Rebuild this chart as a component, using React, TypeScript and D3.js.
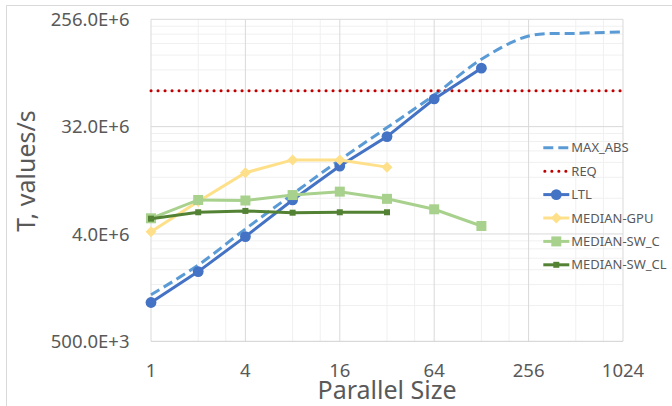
import * as d3 from "d3";

// parallel sizes (log2 axis)
const sizes = [1, 2, 4, 8, 16, 32, 64, 128, 256, 512, 1024];

// throughput per series, values/s
const maxAbs = [1.23e6, 2.19e6, 4.4e6, 8.65e6, 16.8e6, 31.4e6, 59e6, 118e6, 185e6, 195e6, 200e6];
const req = 64e6;
const ltl = [1.06e6, 1.93e6, 3.8e6, 7.73e6, 14.9e6, 26.4e6, 54.7e6, 99.3e6];
const medianGpu = [4.18e6, 7.5e6, 13.1e6, 16.8e6, 16.8e6, 14.6e6];
const medianSwC = [5.42e6, 7.73e6, 7.65e6, 8.5e6, 9.08e6, 7.9e6, 6.45e6, 4.67e6];
const medianSwCl = [5.38e6, 6.09e6, 6.25e6, 6.04e6, 6.09e6, 6.09e6];

const xTicks = [1, 4, 16, 64, 256, 1024];
const xMinor = [2, 3, 8, 12, 32, 48, 128, 192, 512, 768];
const yTicks = [500e3, 4e6, 32e6, 256e6];

const legendNames = ["MAX_ABS", "REQ", "LTL", "MEDIAN-GPU", "MEDIAN-SW_C", "MEDIAN-SW_CL"];

const W = 672;
const H = 406;
const FONT = "'Noto Sans', 'Open Sans', sans-serif";
const TXT = "#595959";
const GPU = "#ffe08a";

const x = d3.scaleLog().base(2).domain([1, 1024]).range([151, 623]);
const y = d3.scaleLog().base(8).domain([500e3, 256e6]).range([341.3, 19.3]);

// engineering style label, e.g. 32.0E+6
const fmt = (v: number) => {
  const e = Math.floor(Math.log10(v) / 3) * 3;
  return `${(v / Math.pow(10, e)).toFixed(1)}E+${e}`;
};

const toPts = (vals: number[]) => vals.map((v, i) => [x(sizes[i]), y(v)] as [number, number]);

const straight = d3.line();
const smooth = d3.line().curve(d3.curveCatmullRom.alpha(0.5));

const diamond = (cx: number, cy: number, r: number) =>
  `M${cx},${cy - r}L${cx + r},${cy}L${cx},${cy + r}L${cx - r},${cy}Z`;

export default function App() {
  // minor horizontal gridlines at k * decade (base 8)
  const yMinor: number[] = [];
  yTicks.slice(0, -1).forEach((t) => {
    for (let k = 2; k <= 7; k++) yMinor.push(t * k);
  });

  const [x0, x1] = x.range();
  const [yb, yt] = y.range();

  const legendY = [147.7, 171.2, 194.6, 218, 241.4, 264.8];
  const lx0 = 543.3;
  const lx1 = 569.3;
  const lmid = (lx0 + lx1) / 2;

  return (
    <svg
      width={W}
      height={H}
      style={{ position: "absolute", left: 0, top: 0, background: "#fff" }}
      fontFamily={FONT}
    >
      <rect x={0} y={0} width={W} height={H} fill="#fff" />
      {/* chart border (partially outside the view) */}
      <path d={`M6.5,${H}V5.5H${W}`} fill="none" stroke="#d9d9d9" />

      {/* gridlines */}
      {yMinor.map((v) => (
        <line key={"ym" + v} x1={x0} x2={x1} y1={y(v)} y2={y(v)} stroke="#f0f0f0" />
      ))}
      {xMinor.map((v) => (
        <line key={"xm" + v} x1={x(v)} x2={x(v)} y1={yb} y2={yt} stroke="#f0f0f0" />
      ))}
      {yTicks.slice(1).map((v) => (
        <line key={"yM" + v} x1={x0} x2={x1} y1={y(v)} y2={y(v)} stroke="#d9d9d9" />
      ))}
      {xTicks.map((v) => (
        <line key={"xM" + v} x1={x(v)} x2={x(v)} y1={yb} y2={yt} stroke="#d9d9d9" />
      ))}
      <line x1={x0} x2={x1} y1={yb} y2={yb} stroke="#d0d0d0" />

      {/* tick labels */}
      {yTicks.map((v) => (
        <text key={"yl" + v} x={129.5} y={y(v) + 6.6} textAnchor="end" fontSize={18.5} fill={TXT}>
          {fmt(v)}
        </text>
      ))}
      {xTicks.map((v) => (
        <text key={"xl" + v} x={x(v)} y={376.5} textAnchor="middle" fontSize={18.5} fill={TXT}>
          {v}
        </text>
      ))}

      {/* axis titles */}
      <text x={(x0 + x1) / 2} y={398.5} textAnchor="middle" fontSize={25} fill={TXT}>
        Parallel Size
      </text>
      <text
        transform="translate(35,171) rotate(-90)"
        textAnchor="middle"
        fontSize={25}
        fill={TXT}
      >
        T, values/s
      </text>

      {/* MAX_ABS */}
      <path
        d={smooth(toPts(maxAbs)) || ""}
        fill="none"
        stroke="#5b9bd5"
        strokeWidth={3}
        strokeDasharray="10,5"
      />
      {/* REQ */}
      <line
        x1={x0}
        x2={x1}
        y1={y(req)}
        y2={y(req)}
        stroke="#c00000"
        strokeWidth={3}
        strokeLinecap="round"
        strokeDasharray="0.1,6.9"
      />
      {/* LTL */}
      <path d={straight(toPts(ltl)) || ""} fill="none" stroke="#4472c4" strokeWidth={3} />
      {toPts(ltl).map(([px, py], i) => (
        <circle key={"c" + i} cx={px} cy={py} r={5.4} fill="#4472c4" />
      ))}
      {/* MEDIAN-GPU */}
      <path d={straight(toPts(medianGpu)) || ""} fill="none" stroke={GPU} strokeWidth={3} />
      {toPts(medianGpu).map(([px, py], i) => (
        <path key={"d" + i} d={diamond(px, py, 5.5)} fill={GPU} />
      ))}
      {/* MEDIAN-SW_C */}
      <path d={straight(toPts(medianSwC)) || ""} fill="none" stroke="#a9d18e" strokeWidth={3} />
      {toPts(medianSwC).map(([px, py], i) => (
        <rect key={"s" + i} x={px - 5} y={py - 5} width={10} height={10} fill="#a9d18e" />
      ))}
      {/* MEDIAN-SW_CL */}
      <path d={straight(toPts(medianSwCl)) || ""} fill="none" stroke="#548235" strokeWidth={3} />
      {toPts(medianSwCl).map(([px, py], i) => (
        <rect key={"q" + i} x={px - 3} y={py - 3} width={6} height={6} fill="#548235" />
      ))}

      {/* legend */}
      {legendNames.map((name, i) => {
        const ly = legendY[i];
        return (
          <g key={name}>
            {i === 0 && (
              <line x1={lx0} x2={lx1} y1={ly} y2={ly} stroke="#5b9bd5" strokeWidth={3} strokeDasharray="10,5" />
            )}
            {i === 1 && (
              <line
                x1={lx0 + 1.5}
                x2={lx1}
                y1={ly}
                y2={ly}
                stroke="#c00000"
                strokeWidth={3}
                strokeLinecap="round"
                strokeDasharray="0.1,6.9"
              />
            )}
            {i === 2 && (
              <>
                <line x1={lx0} x2={lx1} y1={ly} y2={ly} stroke="#4472c4" strokeWidth={3} />
                <circle cx={lmid} cy={ly} r={5.4} fill="#4472c4" />
              </>
            )}
            {i === 3 && (
              <>
                <line x1={lx0} x2={lx1} y1={ly} y2={ly} stroke={GPU} strokeWidth={3} />
                <path d={diamond(lmid, ly, 5.5)} fill={GPU} />
              </>
            )}
            {i === 4 && (
              <>
                <line x1={lx0} x2={lx1} y1={ly} y2={ly} stroke="#a9d18e" strokeWidth={3} />
                <rect x={lmid - 5} y={ly - 5} width={10} height={10} fill="#a9d18e" />
              </>
            )}
            {i === 5 && (
              <>
                <line x1={lx0} x2={lx1} y1={ly} y2={ly} stroke="#548235" strokeWidth={3} />
                <rect x={lmid - 3} y={ly - 3} width={6} height={6} fill="#548235" />
              </>
            )}
            <text x={lx1 + 2} y={ly + 4.6} fontSize={13} fill={TXT}>
              {name}
            </text>
          </g>
        );
      })}
    </svg>
  );
}
